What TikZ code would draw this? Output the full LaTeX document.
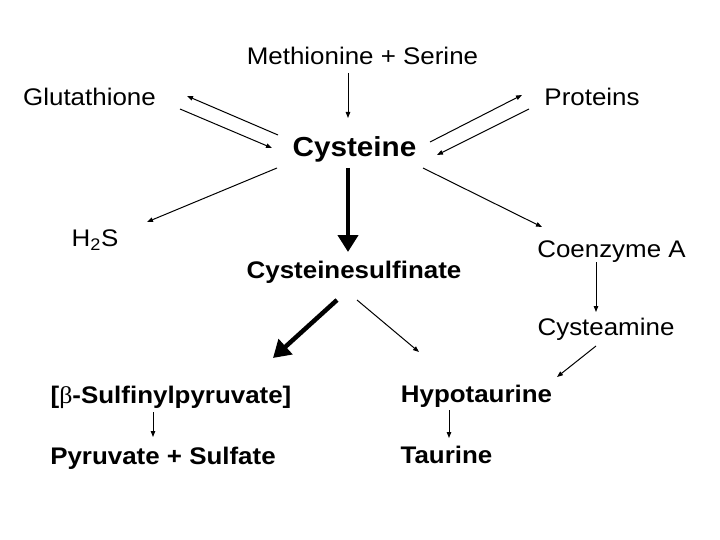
\documentclass[tikz,border=0pt]{standalone}
\usepackage{fontspec}
\setmainfont{Liberation Sans}[FakeStretch=1.08]
\newfontfamily\betafont{Liberation Serif}[FakeStretch=1.08]
\usetikzlibrary{arrows.meta}
\tikzset{
  lbl/.style={inner sep=0pt, anchor=base, font=\fontsize{24}{28}\selectfont},
  blbl/.style={inner sep=0pt, anchor=base, font=\fontsize{24}{28}\selectfont\bfseries},
  bigl/.style={inner sep=0pt, anchor=base, font=\fontsize{27.5}{32}\selectfont\bfseries},
  thin/.style={line width=1pt, -{Triangle[length=6pt,width=4.5pt]}},
  thick/.style={line width=4.5pt, -{Triangle[length=17pt,width=20pt]}},
}
\begin{document}
\begin{tikzpicture}[x=1pt,y=-1pt]
\useasboundingbox (0,0) rectangle (720,540);
\node[lbl]  (met)  at (362.5,65)  {Methionine + Serine};
\node[lbl]  (glu)  at (89.5,106)  {Glutathione};
\node[lbl]  (pro)  at (592,106)   {Proteins};
\node[bigl] (cys)  at (354.5,157) {Cysteine};
\node[lbl]  (h2s)  at (95,247)    {H\textsubscript{2}S};
\node[lbl]  (coa)  at (611.5,257) {Coenzyme A};
\node[blbl] (cysf) at (354,278)   {Cysteinesulfinate};
\node[lbl]  (cam)  at (606,335)   {Cysteamine};
\node[blbl] (bsp)  at (171,403)   {[{\mdseries\betafont β}-Sulfinylpyruvate]};
\node[blbl] (hyp)  at (476.5,402) {Hypotaurine};
\node[blbl] (pyr)  at (163,464)   {Pyruvate + Sulfate};
\node[blbl] (tau)  at (446.5,463) {Taurine};

\draw[thin] ([shift={(-14.5,8)}]met.base) -- ([shift={(-6.5,-39)}]cys.base);
\draw[thin] ([shift={(-76.5,-22)}]cys.base) -- ([shift={(97.5,-10)}]glu.base);
\draw[thin] ([shift={(90.5,3)}]glu.base) -- ([shift={(-82.5,-9)}]cys.base);
\draw[thin] ([shift={(75.5,-15)}]cys.base) -- ([shift={(-70,-11)}]pro.base);
\draw[thin] ([shift={(-63,3)}]pro.base) -- ([shift={(82.5,-2)}]cys.base);
\draw[thin] ([shift={(-77.5,11)}]cys.base) -- ([shift={(52,-25)}]h2s.base);
\draw[thin] ([shift={(68.5,11)}]cys.base) -- ([shift={(-69.5,-30)}]coa.base);
\draw[thick] ([shift={(-6.5,11)}]cys.base) -- ([shift={(-6,-26)}]cysf.base);
\draw[thick] ([shift={(-17,22)}]cysf.base) -- ([shift={(102,-45)}]bsp.base);
\draw[thin] ([shift={(3,22)}]cysf.base) -- ([shift={(-57.5,-50)}]hyp.base);
\draw[thin] ([shift={(-15.5,5)}]coa.base) -- ([shift={(-10,-23)}]cam.base);
\draw[thin] ([shift={(-10,11)}]cam.base) -- ([shift={(80.5,-25)}]hyp.base);
\draw[thin] ([shift={(-18,9)}]bsp.base) -- ([shift={(-10,-27)}]pyr.base);
\draw[thin] ([shift={(-27.5,8)}]hyp.base) -- ([shift={(2.5,-25)}]tau.base);
\end{tikzpicture}
\end{document}
